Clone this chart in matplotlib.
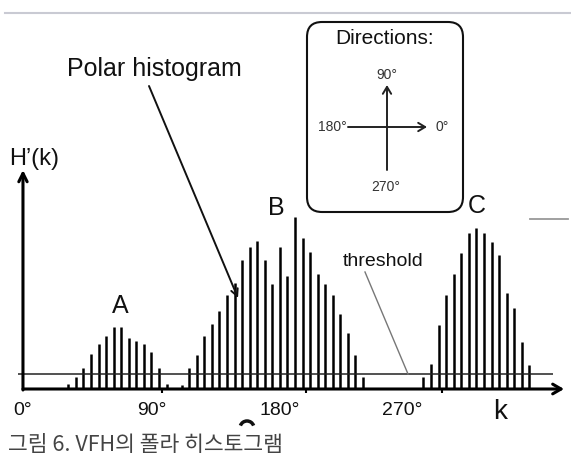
import matplotlib.pyplot as plt
from matplotlib.patches import FancyBboxPatch, Arc

plt.rcParams['font.family'] = ['Liberation Sans', 'Noto Sans CJK KR', 'DejaVu Sans']

# sector index k and histogram value H'(k)
sectors = [6, 7, 8, 9, 10, 11, 12, 13, 14, 15, 16, 17, 18, 19,
           21, 22, 23, 24, 25, 26, 27, 28, 29, 30, 31, 32, 33, 34, 35,
           36, 37, 38, 39, 40, 41, 42, 43, 44, 45,
           53, 54, 55, 56, 57, 58, 59, 60, 61, 62, 63, 64, 65, 66, 67]
values = [5, 12, 21, 35, 45, 53, 62, 62, 51, 48, 45, 37, 21, 5,
          4, 21, 34, 53, 65, 78, 94, 106, 129, 142, 148, 129, 105, 142, 113,
          172, 151, 137, 115, 105, 94, 75, 56, 34, 12,
          12, 25, 64, 94, 115, 136, 156, 161, 156, 147, 134, 96, 81, 47, 24]
threshold = 15
tick_k = [18.4, 37.4, 55.4]
tick_labels = ['0°', '90°', '180°', '270°']
label_k = [0, 17.1, 34.0, 50.2]

fig = plt.figure(figsize=(5.71, 4.58), dpi=100)

# main histogram axes (full figure)
ax = fig.add_axes([0, 0, 1, 1])
ax.set_xlim(-3.04, 72.52)
ax.set_ylim(-69, 389)
ax.axis('off')

ax.vlines(sectors, 0, values, color='black', lw=1.8)
ax.hlines(threshold, -0.66, 70.1, color='#222222', lw=1.1)
ax.vlines(tick_k, -4, 0, color='black', lw=1.5)

# axes with arrows
ax.annotate('', xy=(71.6, 0), xytext=(0, 0),
            arrowprops=dict(arrowstyle='->, head_length=0.6, head_width=0.35',
                            lw=2.2, color='black', shrinkA=0, shrinkB=0))
ax.annotate('', xy=(0, 219), xytext=(0, -1),
            arrowprops=dict(arrowstyle='->, head_length=0.6, head_width=0.3',
                            lw=2.2, color='black', shrinkA=0, shrinkB=0))

for kk, lab in zip(label_k, tick_labels):
    ax.text(kk, -13, lab, ha='center', va='top', fontsize=14, color='#111111')

# overlay in image pixels for the decorations
ov = fig.add_axes([0, 0, 1, 1])
ov.set_xlim(0, 571)
ov.set_ylim(458, 0)
ov.axis('off')
ov.patch.set_alpha(0)

ov.plot([5, 571], [12.5, 12.5], color='#c9cad3', lw=1.5)
ov.plot([530, 568], [219, 219], color='#999999', lw=1.3)

ov.text(34, 159, 'H’(k)', ha='center', va='center', fontsize=17, color='#111111')
ov.text(500, 412, 'k', ha='center', va='center', fontsize=20, color='#111111')

ov.text(154, 69, 'Polar histogram', ha='center', va='center', fontsize=18, color='#111111')
ov.annotate('', xy=(238, 298), xytext=(149, 86),
            arrowprops=dict(arrowstyle='->, head_length=0.5, head_width=0.25',
                            lw=1.4, color='#111111', shrinkA=0, shrinkB=0))

ov.text(120, 306, 'A', ha='center', va='center', fontsize=18, color='#111111')
ov.text(276, 208, 'B', ha='center', va='center', fontsize=18, color='#111111')
ov.text(477, 206, 'C', ha='center', va='center', fontsize=18, color='#111111')

ov.text(383, 261, 'threshold', ha='center', va='center', fontsize=14, color='#111111')
ov.plot([365, 408], [272, 374], color='#777777', lw=1.0)

# directions box
box = FancyBboxPatch((307, 22), 156, 190, boxstyle='round,pad=0,rounding_size=15',
                     fc='none', ec='#111111', lw=1.5)
ov.add_patch(box)
ov.text(385, 38, 'Directions:', ha='center', va='center', fontsize=15, color='#111111')
ov.annotate('', xy=(387, 85), xytext=(387, 170),
            arrowprops=dict(arrowstyle='->, head_length=0.5, head_width=0.3',
                            lw=1.4, color='#222222', shrinkA=0, shrinkB=0))
ov.annotate('', xy=(427, 127), xytext=(348, 127),
            arrowprops=dict(arrowstyle='->, head_length=0.5, head_width=0.3',
                            lw=1.4, color='#222222', shrinkA=0, shrinkB=0))
ov.text(387, 75, '90°', ha='center', va='center', fontsize=10, color='#333333')
ov.text(347, 127, '180°', ha='right', va='center', fontsize=10, color='#333333')
ov.text(435, 127, '0°', ha='left', va='center', fontsize=10, color='#333333')
ov.text(386, 187, '270°', ha='center', va='center', fontsize=10, color='#333333')

# cut-off fragment and caption at the bottom
ov.add_patch(Arc((247, 428), 14, 14, theta1=200, theta2=340, color='#111111', lw=2.5))
ov.text(8, 456, '그림 6. VFH의 폴라 히스토그램', ha='left', va='bottom', fontsize=15.5,
        color='#444444', family=['Noto Sans CJK KR', 'DejaVu Sans'])

fig.savefig('out.png', dpi=100)
